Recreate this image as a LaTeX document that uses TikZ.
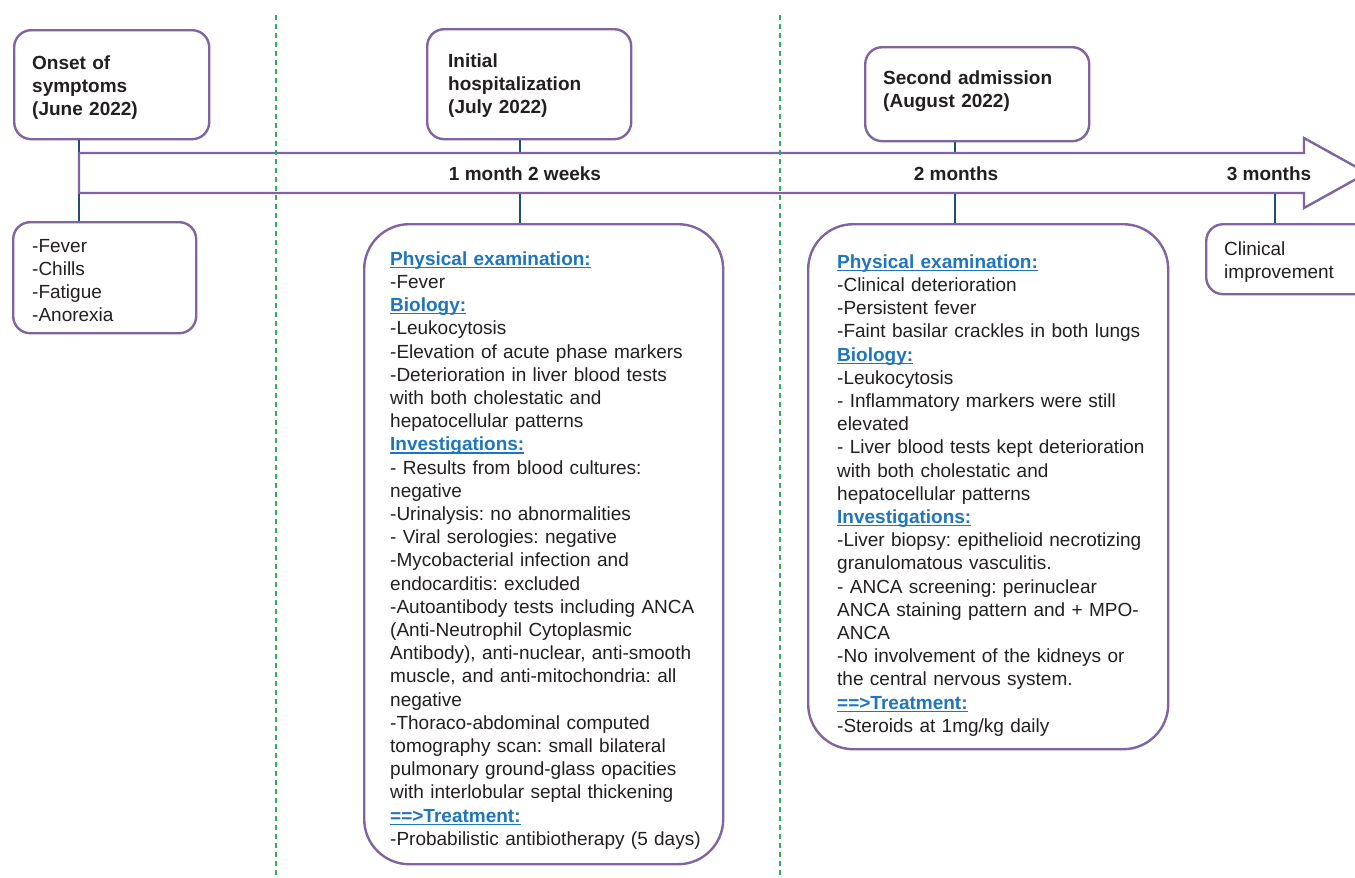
\documentclass[tikz,border=0pt]{standalone}
\usepackage{fontspec}
\setmainfont{Liberation Sans}
\usepackage{xcolor}
\definecolor{boxpurple}{RGB}{128,100,162}
\definecolor{connblue}{RGB}{31,78,121}
\definecolor{hblue}{RGB}{30,117,192}
\definecolor{dotgreen}{RGB}{40,180,80}
\definecolor{ink}{RGB}{35,31,32}
\newlength\hulw
\newcommand\hul[1]{\leavevmode\settowidth{\hulw}{#1}\rlap{\rule[-2.8pt]{\hulw}{1.3pt}}#1}
\newcommand\hd[1]{{\bfseries\color{hblue}\hul{#1}}}
\newcommand\tstrut{\rule{0pt}{15pt}}
\frenchspacing
\begin{document}
\begin{tikzpicture}[x=1pt,y=-1pt,
  box/.style={draw=boxpurple, line width=2.4pt, fill=white, inner sep=0pt, anchor=north west},
  smallbox/.style={box, rounded corners=17pt},
  bigbox/.style={box, rounded corners=45pt},
  txt/.style={anchor=north west, inner sep=0pt, text width=420pt, align=left, font=\fontsize{19}{23.2}\selectfont\frenchspacing, text=ink},
  ttl/.style={txt, font=\fontsize{19}{23.2}\selectfont\bfseries},
  conn/.style={draw=connblue, line width=2.2pt},
  sepline/.style={draw=dotgreen, line width=2pt, dash pattern=on 5pt off 4pt},
  tl/.style={anchor=base, inner sep=0pt, font=\fontsize{19}{23.2}\selectfont\bfseries, text=ink},
  arrowbody/.style={draw=boxpurple, line width=2.4pt, fill=white, line join=miter}
]
\path[use as bounding box] (0,0) rectangle (1355,878);
\clip (0,0) rectangle (1355,878);

% boxes
\node[smallbox, minimum width=195pt, minimum height=109pt] (onset) at (13,29) {};
\node[smallbox, minimum width=183pt, minimum height=111pt] (sym) at (12,221) {};
\node[smallbox, minimum width=204pt, minimum height=110pt] (init) at (426,28) {};
\node[smallbox, minimum width=224pt, minimum height=94pt] (second) at (864,46) {};
\node[smallbox, minimum width=190pt, minimum height=70pt] (clin) at (1205,223) {};
\node[bigbox, minimum width=359pt, minimum height=640pt] (exam1) at (363,223) {};
\node[bigbox, minimum width=360pt, minimum height=525pt] (exam2) at (807,223) {};

% connectors
\coordinate (a1) at (79,173);
\coordinate (a2) at (520,173);
\coordinate (a3) at (955,173);
\coordinate (a4) at (1275,193);
\draw[conn] (onset.south -| a1) -- (sym.north -| a1);
\draw[conn] (init.south -| a2) -- (exam1.north -| a2);
\draw[conn] (second.south -| a3) -- (exam2.north -| a3);
\draw[conn] (a4) -- (clin.north -| a4);

% timeline arrow
\draw[arrowbody] (79,153) -- (1304,153) -- (1304,138) -- (1367,173) -- (1304,208) -- (1304,193) -- (79,193) -- cycle;

% separators
\draw[sepline] (276,15) -- (276,878);
\draw[sepline] (780,15) -- (780,878);

% arrow labels
\node[tl] (l1) at (525,180) {1 month 2 weeks};
\node[tl] (l2) at (956,180) {2 months};
\node[tl] (l3) at (1269,180) {3 months};

% texts
\node[ttl] (onsett) at (32,54) {\tstrut Onset of\\symptoms\\(June 2022)};
\node[txt] (symt) at (32,237) {\tstrut -Fever\\-Chills\\-Fatigue\\-Anorexia};
\node[ttl] (initt) at (448,52) {\tstrut Initial\\hospitalization\\(July 2022)};
\node[ttl] (secondt) at (883,69) {\tstrut Second admission\\(August 2022)};
\node[txt] (clint) at (1224,240) {\tstrut Clinical\\improvement};

\node[txt] (exam1t) at (390,250) {\tstrut\hd{Physical examination:}\\
-Fever\\
\hd{Biology:}\\
-Leukocytosis\\
-Elevation of acute phase markers\\
-Deterioration in liver blood tests\\
with both cholestatic and\\
hepatocellular patterns\\
\hd{Investigations:}\\
- Results from blood cultures:\\
negative\\
-Urinalysis: no abnormalities\\
- Viral serologies: negative\\
-Mycobacterial infection and\\
endocarditis: excluded\\
-Autoantibody tests including ANCA\\
(Anti-Neutrophil Cytoplasmic\\
Antibody), anti-nuclear, anti-smooth\\
muscle, and anti-mitochondria: all\\
negative\\
-Thoraco-abdominal computed\\
tomography scan: small bilateral\\
pulmonary ground-glass opacities\\
with interlobular septal thickening\\
\hd{==>Treatment:}\\
-Probabilistic antibiotherapy (5 days)};

\node[txt] (exam2t) at (837,253) {\tstrut\hd{Physical examination:}\\
-Clinical deterioration\\
-Persistent fever\\
-Faint basilar crackles in both lungs\\
\hd{Biology:}\\
-Leukocytosis\\
- Inflammatory markers were still\\
elevated\\
- Liver blood tests kept deterioration\\
with both cholestatic and\\
hepatocellular patterns\\
\hd{Investigations:}\\
-Liver biopsy: epithelioid necrotizing\\
granulomatous vasculitis.\\
- ANCA screening: perinuclear\\
ANCA staining pattern and + MPO-\\
ANCA\\
-No involvement of the kidneys or\\
the central nervous system.\\
\hd{==>Treatment:}\\
-Steroids at 1mg/kg daily};
\end{tikzpicture}
\end{document}
